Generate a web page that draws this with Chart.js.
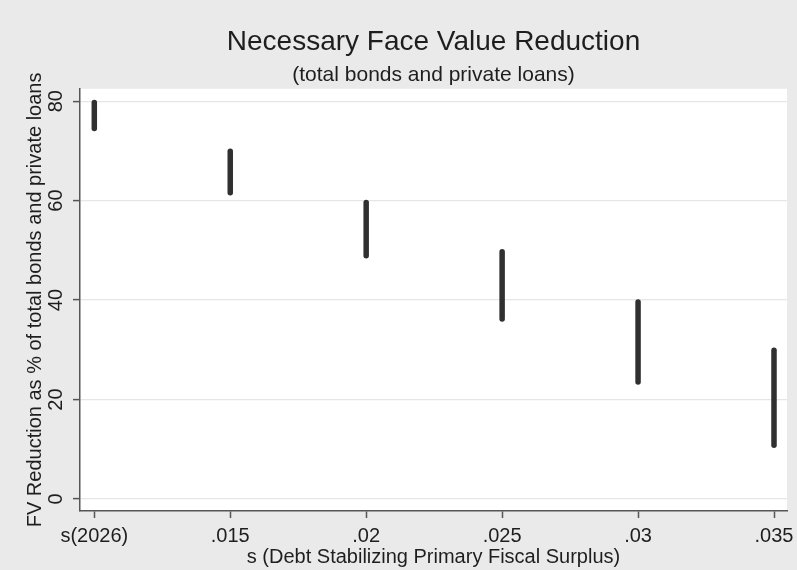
<!DOCTYPE html>
<html>
<head>
<meta charset="utf-8">
<script src="https://cdn.jsdelivr.net/npm/chart.js@4.4.1/dist/chart.umd.min.js"></script>
<style>
  html, body { margin: 0; padding: 0; background: #eaeaea; }
  #wrap { width: 797px; height: 570px; position: relative; }
</style>
</head>
<body>
<div id="wrap"><canvas id="c" width="797" height="570"></canvas></div>
<script>
// ---- Data ----
const sValues = [0.01, 0.015, 0.02, 0.025, 0.03, 0.035];
const xTickLabels = ['s(2026)', '.015', '.02', '.025', '.03', '.035'];
const fvMin = [74.5, 61.6, 48.9, 36.2, 23.5, 10.8];
const fvMax = [79.7, 69.9, 59.6, 49.7, 39.6, 29.9];
const yTicks = [0, 20, 40, 60, 80];

const titleText = 'Necessary Face Value Reduction';
const subtitleText = '(total bonds and private loans)';
const xTitle = 's (Debt Stabilizing Primary Fiscal Surplus)';
const yTitle = 'FV Reduction as % of total bonds and private loans';

const FONT = '"Liberation Sans", Arial, Helvetica, sans-serif';
const TEXT = '#1e1e1e';
const MARK = '#303030';
const AXIS = '#555555';

const datasets = sValues.map((s, i) => ({
  label: xTickLabels[i],
  data: [{ x: s, y: fvMin[i] }, { x: s, y: fvMax[i] }],
  showLine: true,
  borderColor: MARK,
  backgroundColor: MARK,
  borderWidth: 5.5,
  borderCapStyle: 'round',
  pointRadius: 0,
  pointHoverRadius: 0
}));

const bgPlugin = {
  id: 'bg',
  beforeDraw(chart) {
    const { ctx, chartArea: a } = chart;
    ctx.save();
    ctx.fillStyle = '#eaeaea';
    ctx.fillRect(0, 0, chart.width, chart.height);
    ctx.fillStyle = '#ffffff';
    ctx.fillRect(a.left, a.top, a.right - a.left, a.bottom - a.top);
    ctx.restore();
  }
};

new Chart(document.getElementById('c'), {
  type: 'scatter',
  data: { datasets },
  plugins: [bgPlugin],
  options: {
    responsive: false,
    animation: false,
    events: [],
    layout: { padding: { left: 0, right: 10, top: 0, bottom: 0 } },
    plugins: {
      legend: { display: false },
      tooltip: { enabled: false },
      title: {
        display: true,
        text: titleText,
        fullSize: false,
        color: TEXT,
        font: { family: FONT, size: 28, weight: 'normal', lineHeight: 1.2 },
        padding: { top: 25, bottom: 0 }
      },
      subtitle: {
        display: true,
        text: subtitleText,
        fullSize: false,
        color: TEXT,
        font: { family: FONT, size: 21, weight: 'normal', lineHeight: 1.2 },
        padding: { top: 4, bottom: 1 }
      }
    },
    scales: {
      x: {
        type: 'linear',
        min: 0.009474,
        max: 0.035478,
        afterBuildTicks(scale) { scale.ticks = sValues.map(v => ({ value: v })); },
        afterFit(scale) { scale.height = 59; scale.paddingLeft = 0; scale.paddingRight = 0; },
        grid: { drawOnChartArea: false, drawTicks: true, tickLength: 7, tickColor: AXIS, tickWidth: 1.5 },
        border: { display: true, color: AXIS, width: 1.5 },
        ticks: {
          autoSkip: false,
          maxRotation: 0,
          minRotation: 0,
          padding: 6,
          color: TEXT,
          font: { family: FONT, size: 20 },
          callback(value) {
            const i = sValues.findIndex(v => Math.abs(v - value) < 1e-9);
            return i >= 0 ? xTickLabels[i] : '';
          }
        },
        title: {
          display: true,
          text: xTitle,
          color: TEXT,
          font: { family: FONT, size: 20, lineHeight: 1.2 },
          padding: { top: 0, bottom: 1 }
        }
      },
      y: {
        type: 'linear',
        min: -2.42,
        max: 82.48,
        afterBuildTicks(scale) { scale.ticks = yTicks.map(v => ({ value: v })); },
        afterFit(scale) { scale.width = 80; scale.paddingTop = 0; scale.paddingBottom = 0; },
        grid: { color: '#e6e6e6', lineWidth: 1.2, drawTicks: true, tickLength: 7, tickColor: AXIS, tickWidth: 1.5 },
        border: { display: true, color: AXIS, width: 1.5 },
        ticks: {
          autoSkip: false,
          minRotation: 90,
          maxRotation: 90,
          crossAlign: 'center',
          padding: 5,
          color: TEXT,
          font: { family: FONT, size: 20 }
        },
        title: {
          display: true,
          text: yTitle,
          color: TEXT,
          font: { family: FONT, size: 20, lineHeight: 1.2 },
          padding: { top: 23, bottom: 0 }
        }
      }
    }
  }
});
</script>
</body>
</html>
